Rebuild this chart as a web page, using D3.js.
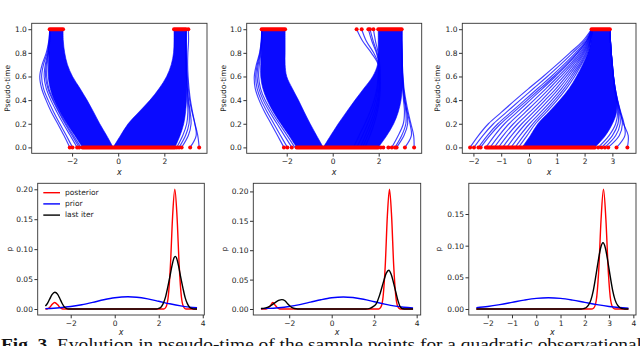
<!DOCTYPE html>
<html>
<head>
<meta charset="utf-8">
<script src="https://cdn.jsdelivr.net/npm/d3@7"></script>
<style>
  body { margin: 0; background: #fff; }
  svg { display: block; font-family: 'DejaVu Sans', sans-serif; }
</style>
</head>
<body>
<svg id="canvas" width="640" height="346"></svg>
<script>
let svg = d3.select('#canvas')

// pseudo-time knots shared by every trajectory below
let tKnots = [0, 0.1, 0.2, 0.3, 0.4, 0.5, 0.6, 0.7, 0.8, 0.9, 1.0]

// ---- top left: trajectories
let p1LeftInner = [-0.22, -0.50, -0.80, -1.07, -1.35, -1.66, -1.98, -2.20, -2.32, -2.38, -2.39]
let p1LeftOuter = [-1.55, -1.88, -2.22, -2.52, -2.78, -2.95, -3.03, -3.03, -3.00, -2.98, -2.97]
let p1RightInner = [-0.22, 0.10, 0.43, 0.90, 1.38, 1.78, 2.10, 2.30, 2.40, 2.42, 2.42]
let p1RightOuter = [2.46, 2.68, 2.84, 2.92, 2.96, 2.97, 2.96, 2.95, 2.94, 2.94, 2.94]
let p1Lines = [
    [-2.10, -2.35, -2.62, -2.90, -3.13, -3.32, -3.40, -3.30, -3.12, -3.01, -2.97],
    [-1.98, -2.25, -2.53, -2.80, -3.04, -3.24, -3.32, -3.24, -3.08, -3.00, -2.96],
    [-1.78, -2.08, -2.38, -2.66, -2.92, -3.12, -3.21, -3.16, -3.05, -2.98, -2.95],
    [-1.69, -2.00, -2.30, -2.58, -2.84, -3.05, -3.15, -3.12, -3.03, -2.97, -2.94],
    [-1.62, -1.94, -2.26, -2.55, -2.81, -3.01, -3.10, -3.08, -3.02, -2.98, -2.96],
    [3.51, 3.45, 3.33, 3.22, 3.13, 3.07, 3.03, 3.01, 3.02, 3.05, 3.04],
    [3.12, 3.38, 3.32, 3.20, 3.10, 3.04, 3.00, 2.97, 2.95, 2.94, 2.94],
    [2.75, 3.04, 3.16, 3.12, 3.05, 3.00, 2.97, 2.95, 2.94, 2.94, 2.94],
    [2.64, 2.92, 3.07, 3.08, 3.03, 2.99, 2.96, 2.95, 2.94, 2.94, 2.94],
    [2.54, 2.80, 2.97, 3.02, 3.00, 2.98, 2.96, 2.95, 2.94, 2.94, 2.94]
]
let p1StartDots = [-2.10, -1.98, -1.78, -1.69, 2.54, 2.64, 2.75, 3.12, 3.51]
let p1StartRuns = [[-1.55, 2.46]]
let p1EndDots = [3.04]
let p1EndRuns = [[-2.97, -2.39], [2.42, 2.94]]

// ---- top middle
let p2LeftInner = [-0.41, -0.70, -0.98, -1.24, -1.49, -1.76, -2.00, -2.07, -2.07, -2.07, -2.07]
let p2LeftOuter = [-1.57, -1.90, -2.25, -2.58, -2.85, -3.04, -3.13, -3.13, -3.11, -3.10, -3.09]
let p2RightInner = [-0.41, -0.09, 0.24, 0.60, 0.97, 1.36, 1.74, 1.95, 1.98, 1.98, 1.98]
let p2RightOuter = [1.98, 2.35, 2.65, 2.85, 2.97, 3.02, 3.03, 3.02, 3.01, 3.00, 3.00]
let p2Lines = [
    [-2.12, -2.40, -2.68, -2.96, -3.20, -3.37, -3.41, -3.32, -3.18, -3.11, -3.09],
    [-1.97, -2.27, -2.56, -2.85, -3.11, -3.29, -3.35, -3.28, -3.16, -3.10, -3.08],
    [-1.78, -2.10, -2.42, -2.74, -3.02, -3.21, -3.29, -3.24, -3.14, -3.09, -3.07],
    [-1.65, -1.98, -2.32, -2.65, -2.94, -3.14, -3.22, -3.19, -3.12, -3.09, -3.08],
    [3.54, 3.52, 3.40, 3.28, 3.18, 3.10, 3.06, 3.03, 3.01, 3.00, 3.00],
    [3.14, 3.42, 3.36, 3.24, 3.14, 3.08, 3.04, 3.02, 3.01, 3.00, 3.00],
    [2.78, 3.10, 3.26, 3.22, 3.14, 3.07, 3.04, 3.02, 3.01, 3.00, 3.00],
    [2.71, 3.00, 3.18, 3.18, 3.11, 3.06, 3.03, 3.02, 3.01, 3.00, 3.00],
    [2.57, 2.85, 3.07, 3.12, 3.08, 3.04, 3.03, 3.02, 3.01, 3.00, 3.00],
    [0.90, 1.15, 1.40, 1.62, 1.80, 1.92, 1.97, 1.98, 1.68, 1.30, 1.04],
    [1.05, 1.30, 1.52, 1.72, 1.87, 1.96, 2.00, 2.00, 1.78, 1.46, 1.26],
    [1.20, 1.42, 1.63, 1.81, 1.94, 2.01, 2.03, 2.02, 1.90, 1.70, 1.55],
    [1.30, 1.52, 1.72, 1.88, 1.99, 2.04, 2.05, 2.03, 1.93, 1.76, 1.62],
    [1.40, 1.62, 1.80, 1.94, 2.03, 2.07, 2.07, 2.04, 1.98, 1.86, 1.77]
]
let p2StartDots = [-2.12, -1.97, -1.78, 2.09, 2.20, 2.42, 2.57, 2.71, 2.78, 3.14, 3.54]
let p2StartRuns = [[-1.57, 1.98]]
let p2EndDots = [1.04, 1.26, 1.55, 1.62, 1.77]
let p2EndRuns = [[-3.09, -2.07], [1.98, 3.00]]

// ---- top right
let p3Inner = [-0.25, 0.05, 0.32, 0.72, 1.11, 1.45, 1.71, 1.93, 2.12, 2.23, 2.28]
let p3Outer = [2.37, 2.75, 3.00, 3.15, 3.15, 3.08, 3.03, 2.99, 2.96, 2.93, 2.91]
let p3Lines = [
    [-2.12, -1.82, -1.46, -0.98, -0.50, 0.00, 0.51, 1.00, 1.47, 1.93, 2.25],
    [-1.98, -1.66, -1.28, -0.80, -0.32, 0.17, 0.66, 1.13, 1.57, 1.99, 2.26],
    [-1.82, -1.50, -1.12, -0.64, -0.16, 0.32, 0.80, 1.25, 1.67, 2.04, 2.27],
    [-1.74, -1.41, -1.02, -0.54, -0.06, 0.42, 0.89, 1.33, 1.73, 2.07, 2.27],
    [-1.55, -1.24, -0.88, -0.42, 0.04, 0.50, 0.95, 1.38, 1.76, 2.08, 2.27],
    [-1.40, -1.08, -0.72, -0.27, 0.18, 0.62, 1.05, 1.46, 1.82, 2.11, 2.27],
    [-1.25, -0.93, -0.56, -0.12, 0.32, 0.74, 1.15, 1.53, 1.87, 2.13, 2.27],
    [-1.10, -0.78, -0.41, 0.03, 0.46, 0.86, 1.25, 1.60, 1.92, 2.15, 2.28],
    [-0.95, -0.63, -0.26, 0.17, 0.58, 0.98, 1.34, 1.67, 1.96, 2.17, 2.28],
    [-0.80, -0.48, -0.12, 0.30, 0.70, 1.08, 1.42, 1.73, 2.00, 2.19, 2.28],
    [-0.65, -0.33, 0.02, 0.43, 0.82, 1.18, 1.50, 1.79, 2.04, 2.20, 2.28],
    [-0.50, -0.19, 0.14, 0.54, 0.92, 1.27, 1.57, 1.84, 2.07, 2.21, 2.28],
    [-0.38, -0.07, 0.23, 0.63, 1.01, 1.35, 1.64, 1.88, 2.10, 2.22, 2.28],
    [3.54, 3.57, 3.40, 3.28, 3.18, 3.10, 3.04, 3.00, 2.96, 2.93, 2.91],
    [3.15, 3.45, 3.42, 3.30, 3.19, 3.10, 3.04, 3.00, 2.96, 2.93, 2.91],
    [2.85, 3.25, 3.36, 3.28, 3.18, 3.10, 3.04, 3.00, 2.96, 2.93, 2.91],
    [2.73, 3.12, 3.28, 3.25, 3.16, 3.09, 3.04, 3.00, 2.96, 2.93, 2.91],
    [2.61, 3.00, 3.20, 3.22, 3.15, 3.08, 3.03, 2.99, 2.96, 2.93, 2.91],
    [2.49, 2.88, 3.12, 3.19, 3.14, 3.08, 3.03, 2.99, 2.96, 2.93, 2.91]
]
let p3StartDots = [-2.12, -1.98, -1.82, -1.74, 2.49, 2.61, 2.73, 2.85, 3.15, 3.54]
let p3StartRuns = [[-1.55, 2.37]]
let p3EndDots = []
let p3EndRuns = [[2.25, 2.91]]

// ---- bottom row: densities [x, p]
let b1Posterior = [[-3.15, 0], [-3.05, 0.0005], [-2.95, 0.003], [-2.85, 0.0075], [-2.73, 0.011], [-2.6, 0.0075],
    [-2.5, 0.003], [-2.4, 0.0005], [-2.3, 0], [2.23, 0], [2.33, 0.0034], [2.43, 0.020], [2.53, 0.072], [2.63, 0.155],
    [2.73, 0.20], [2.83, 0.155], [2.93, 0.072], [3.03, 0.020], [3.13, 0.0034], [3.23, 0], [3.74, 0]]
let b1Prior = [[-3.15, 0.0007], [-2.5, 0.0021], [-2, 0.0041], [-1.5, 0.0072], [-1, 0.0111], [-0.5, 0.0154], [0, 0.0188],
    [0.6, 0.0205], [1, 0.0197], [1.5, 0.0169], [2, 0.0129], [2.5, 0.0087], [3, 0.0052], [3.4, 0.0032], [3.74, 0.002]]
let b1Last = [[-3.15, 0.005], [-3.05, 0.010], [-2.95, 0.017], [-2.85, 0.024], [-2.72, 0.028], [-2.6, 0.025], [-2.5, 0.018],
    [-2.4, 0.010], [-2.3, 0.004], [-2.2, 0.001], [-2.1, 0], [1.9, 0], [2.0, 0.001], [2.1, 0.003], [2.2, 0.009], [2.3, 0.019],
    [2.4, 0.035], [2.5, 0.053], [2.6, 0.072], [2.7, 0.086], [2.75, 0.088], [2.8, 0.086], [2.9, 0.072], [3.0, 0.053],
    [3.1, 0.035], [3.2, 0.019], [3.3, 0.009], [3.4, 0.003], [3.5, 0.001], [3.6, 0], [3.74, 0]]

let b2Posterior = [[-3.33, 0], [-3.1, 0], [-3.0, 0.0015], [-2.9, 0.005], [-2.77, 0.011], [-2.65, 0.006], [-2.55, 0.002],
    [-2.45, 0], [2.22, 0], [2.32, 0.0035], [2.42, 0.021], [2.52, 0.073], [2.62, 0.158], [2.72, 0.2036], [2.82, 0.158],
    [2.92, 0.073], [3.02, 0.021], [3.12, 0.0035], [3.22, 0], [3.83, 0]]
let b2Prior = [[-3.33, 0.0006], [-3, 0.001], [-2.5, 0.0022], [-2, 0.0043], [-1.5, 0.0075], [-1, 0.0116], [-0.5, 0.0158],
    [0, 0.0191], [0.55, 0.0205], [1, 0.0195], [1.5, 0.0165], [2, 0.0124], [2.5, 0.0083], [3, 0.0049], [3.4, 0.003], [3.83, 0.0016]]
let b2Last = [[-3.33, 0.0008], [-3.1, 0.002], [-2.9, 0.005], [-2.7, 0.010], [-2.5, 0.0145], [-2.34, 0.016], [-2.2, 0.014],
    [-2.05, 0.008], [-1.9, 0.003], [-1.75, 0.0008], [-1.6, 0], [1.6, 0], [1.8, 0.001], [1.95, 0.004], [2.1, 0.009],
    [2.26, 0.024], [2.42, 0.044], [2.57, 0.061], [2.69, 0.066], [2.81, 0.058], [2.97, 0.036], [3.13, 0.013], [3.24, 0.003],
    [3.35, 0.0005], [3.5, 0], [3.83, 0]]

let b3Posterior = [[-2.47, 0], [2.27, 0], [2.37, 0.0017], [2.47, 0.013], [2.57, 0.058], [2.67, 0.141], [2.77, 0.189],
    [2.87, 0.141], [2.97, 0.058], [3.07, 0.013], [3.17, 0.0017], [3.27, 0], [3.8, 0]]
let b3Prior = [[-2.47, 0.0022], [-2, 0.0040], [-1.5, 0.0069], [-1, 0.0104], [-0.5, 0.0140], [0, 0.0168], [0.5, 0.0178],
    [1, 0.0168], [1.5, 0.0140], [2, 0.0104], [2.5, 0.0069], [3, 0.0040], [3.4, 0.0024], [3.8, 0.0013]]
let b3Last = [[-2.47, 0], [1.85, 0], [1.95, 0.0006], [2.05, 0.002], [2.15, 0.006], [2.25, 0.014], [2.35, 0.029],
    [2.45, 0.051], [2.55, 0.075], [2.65, 0.096], [2.75, 0.1046], [2.85, 0.096], [2.95, 0.075], [3.05, 0.051],
    [3.15, 0.029], [3.25, 0.014], [3.35, 0.006], [3.45, 0.002], [3.55, 0.0006], [3.65, 0], [3.8, 0]]

let legendLabels = ['posterior', 'prior', 'last iter']
let seriesColors = ['#ff0000', '#0000ff', '#000000']

let styleAxis = (a) => {
    a.select('.domain').remove()
    a.attr('font-size', 7.5).attr('font-family', 'DejaVu Sans, sans-serif')
    a.selectAll('.tick line').attr('stroke', '#333')
    a.selectAll('.tick text').attr('fill', '#222')
}

let drawTop = (cfg) => {
    let x = d3.scaleLinear().domain(cfg.domain).range([cfg.left, cfg.right])
    let y = d3.scaleLinear().domain([-0.05, 1.05]).range([153.3, 23.3])
    let g = svg.append('g')

    let area = d3.area()
        .y((d) => y(d.t))
        .x0((d) => x(d.a))
        .x1((d) => x(d.b))
        .curve(d3.curveCatmullRom)
    cfg.bands.forEach((band) => {
        g.append('path')
            .datum(tKnots.map((t, i) => ({ t: t, a: band[0][i], b: band[1][i] })))
            .attr('d', area)
            .attr('fill', '#0a0aff')
            .attr('stroke', '#0000ff')
            .attr('stroke-width', 0.6)
    })

    let line = d3.line()
        .x((d) => x(d[0]))
        .y((d) => y(d[1]))
        .curve(d3.curveCatmullRom)
    g.selectAll('path.traj')
        .data(cfg.lines)
        .enter()
        .append('path')
        .attr('class', 'traj')
        .attr('d', (xs) => line(xs.map((v, i) => [v, tKnots[i]])))
        .attr('fill', 'none')
        .attr('stroke', '#0000ff')
        .attr('stroke-opacity', 0.75)
        .attr('stroke-width', 1.15)

    // red markers: dense runs and isolated points at t = 0 and t = 1
    let runs = cfg.startRuns.map((r) => ({ r: r, t: 0 })).concat(cfg.endRuns.map((r) => ({ r: r, t: 1 })))
    g.selectAll('line.run')
        .data(runs)
        .enter()
        .append('line')
        .attr('x1', (d) => x(d.r[0]))
        .attr('x2', (d) => x(d.r[1]))
        .attr('y1', (d) => y(d.t))
        .attr('y2', (d) => y(d.t))
        .attr('stroke', '#ff0000')
        .attr('stroke-width', 4)
        .attr('stroke-linecap', 'round')
    let dots = cfg.startDots.map((v) => [v, 0]).concat(cfg.endDots.map((v) => [v, 1]))
    g.selectAll('circle')
        .data(dots)
        .enter()
        .append('circle')
        .attr('cx', (d) => x(d[0]))
        .attr('cy', (d) => y(d[1]))
        .attr('r', 2)
        .attr('fill', '#ff0000')

    g.append('g')
        .attr('transform', 'translate(' + cfg.left + ',0)')
        .call(d3.axisLeft(y).tickValues([0, 0.2, 0.4, 0.6, 0.8, 1.0]).tickFormat(d3.format('.1f')).tickSize(3.3).tickPadding(1.5))
        .call(styleAxis)
    g.append('g')
        .attr('transform', 'translate(0,153.3)')
        .call(d3.axisBottom(x).tickValues(cfg.xTicks).tickFormat(d3.format('d')).tickSize(3.3).tickPadding(2))
        .call(styleAxis)

    g.append('rect')
        .attr('x', cfg.left).attr('y', 23.3)
        .attr('width', cfg.right - cfg.left).attr('height', 130)
        .attr('fill', 'none').attr('stroke', '#333').attr('stroke-width', 0.9)

    g.append('text')
        .attr('x', (cfg.left + cfg.right) / 2).attr('y', 172)
        .attr('text-anchor', 'middle').attr('dominant-baseline', 'middle')
        .attr('font-size', 8).attr('font-style', 'italic').attr('fill', '#222')
        .text('x')
    g.append('text')
        .attr('transform', 'translate(' + cfg.labelX + ',88.3) rotate(-90)')
        .attr('text-anchor', 'middle').attr('dominant-baseline', 'middle')
        .attr('font-size', 7.5).attr('fill', '#222')
        .text('Pseudo-time')
}

let drawBottom = (cfg) => {
    let x = d3.scaleLinear().domain(cfg.domain).range([cfg.left, cfg.right])
    let y = d3.scaleLinear().domain(cfg.yDomain).range([315, 183.3])
    let g = svg.append('g')

    let line = d3.line()
        .x((d) => x(d[0]))
        .y((d) => y(d[1]))
        .curve(d3.curveMonotoneX)
    g.selectAll('path.dens')
        .data(cfg.series)
        .enter()
        .append('path')
        .attr('class', 'dens')
        .attr('d', line)
        .attr('fill', 'none')
        .attr('stroke', (d, i) => seriesColors[i])
        .attr('stroke-width', 1.4)
        .attr('stroke-linejoin', 'round')

    g.append('g')
        .attr('transform', 'translate(' + cfg.left + ',0)')
        .call(d3.axisLeft(y).tickValues(cfg.yTicks).tickFormat(d3.format('.2f')).tickSize(3.3).tickPadding(1.5))
        .call(styleAxis)
    g.append('g')
        .attr('transform', 'translate(0,315)')
        .call(d3.axisBottom(x).tickValues(cfg.xTicks).tickFormat(d3.format('d')).tickSize(3.3).tickPadding(2))
        .call(styleAxis)

    g.append('rect')
        .attr('x', cfg.left).attr('y', 183.3)
        .attr('width', cfg.right - cfg.left).attr('height', 131.7)
        .attr('fill', 'none').attr('stroke', '#333').attr('stroke-width', 0.9)

    g.append('text')
        .attr('x', (cfg.left + cfg.right) / 2).attr('y', 332.5)
        .attr('text-anchor', 'middle').attr('dominant-baseline', 'middle')
        .attr('font-size', 8).attr('font-style', 'italic').attr('fill', '#222')
        .text('x')
    g.append('text')
        .attr('transform', 'translate(' + cfg.labelX + ',249) rotate(-90)')
        .attr('text-anchor', 'middle').attr('dominant-baseline', 'middle')
        .attr('font-size', 7.5).attr('fill', '#222')
        .text('p')

    if (cfg.legend) {
        let lg = g.append('g')
        legendLabels.forEach((label, i) => {
            let ly = 192.7 + i * 11.2
            lg.append('line')
                .attr('x1', 43.3).attr('x2', 60).attr('y1', ly).attr('y2', ly)
                .attr('stroke', seriesColors[i]).attr('stroke-width', 1.4)
            lg.append('text')
                .attr('x', 65).attr('y', ly)
                .attr('dominant-baseline', 'middle')
                .attr('font-size', 7.5).attr('fill', '#222')
                .text(label)
        })
    }
}

drawTop({ domain: [-3.75, 3.85], left: 31.7, right: 207, labelX: 8.3, xTicks: [-2, 0, 2],
    bands: [[p1LeftInner, p1LeftOuter], [p1RightInner, p1RightOuter]], lines: p1Lines,
    startDots: p1StartDots, startRuns: p1StartRuns, endDots: p1EndDots, endRuns: p1EndRuns })
drawTop({ domain: [-3.74, 3.87], left: 246.7, right: 421.7, labelX: 224, xTicks: [-2, 0, 2],
    bands: [[p2LeftInner, p2LeftOuter], [p2RightInner, p2RightOuter]], lines: p2Lines,
    startDots: p2StartDots, startRuns: p2StartRuns, endDots: p2EndDots, endRuns: p2EndRuns })
drawTop({ domain: [-2.4, 3.85], left: 462.3, right: 636, labelX: 438.3, xTicks: [-2, -1, 0, 1, 2, 3],
    bands: [[p3Inner, p3Outer]], lines: p3Lines,
    startDots: p3StartDots, startRuns: p3StartRuns, endDots: p3EndDots, endRuns: p3EndRuns })

drawBottom({ domain: [-3.5, 4.07], yDomain: [-0.01, 0.21], left: 37.7, right: 204.3, labelX: 10,
    xTicks: [-2, 0, 2, 4], yTicks: [0, 0.05, 0.10, 0.15, 0.20], series: [b1Posterior, b1Prior, b1Last], legend: true })
drawBottom({ domain: [-3.69, 4.19], yDomain: [-0.0102, 0.2138], left: 253.3, right: 420.7, labelX: 225,
    xTicks: [-2, 0, 2, 4], yTicks: [0, 0.05, 0.10, 0.15, 0.20], series: [b2Posterior, b2Prior, b2Last] })
drawBottom({ domain: [-2.78, 4.11], yDomain: [-0.0095, 0.1985], left: 468.8, right: 636, labelX: 439.3,
    xTicks: [-2, -1, 0, 1, 2, 3, 4], yTicks: [0, 0.05, 0.10, 0.15], series: [b3Posterior, b3Prior, b3Last] })

// caption, cut by the bottom edge of the crop as in the source figure
let caption = svg.append('text')
    .attr('x', 1).attr('y', 349.5)
    .attr('font-family', "'Liberation Serif', 'DejaVu Serif', serif")
    .attr('font-size', 16).attr('fill', '#111')
    .attr('textLength', 641).attr('lengthAdjust', 'spacingAndGlyphs')
caption.append('tspan').attr('font-weight', 'bold').text('Fig. 3.')
caption.append('tspan').text(' Evolution in pseudo-time of the sample points for a quadratic observational')
</script>
</body>
</html>
